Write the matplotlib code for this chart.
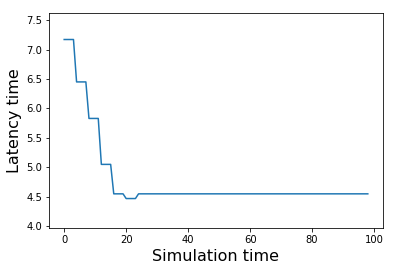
import matplotlib.pyplot as plt

# latency levels (x = 0..98 integer steps)
levels = [7.17, 6.45, 5.83, 5.05, 4.55, 4.47, 4.55]
lengths = [4, 4, 4, 4, 4, 4, 75]

sim_time = list(range(sum(lengths)))
latency = []
for lv, n in zip(levels, lengths):
    latency += [lv] * n

fig = plt.figure(figsize=(394 / 72, 271 / 72), dpi=72)
ax = fig.add_axes([49 / 394, 1 - 228 / 271, (383 - 49) / 394, (228 - 13) / 271])
ax.plot(sim_time, latency, color='#1f77b4', lw=1.5)
ax.set_ylim(3.97, 7.62)
ax.set_yticks([4.0, 4.5, 5.0, 5.5, 6.0, 6.5, 7.0, 7.5])
ax.set_xticks([0, 20, 40, 60, 80, 100])
ax.set_xlabel('Simulation time', fontsize=16)
ax.set_ylabel('Latency time', fontsize=16)
fig.savefig('out.png', dpi=72)
